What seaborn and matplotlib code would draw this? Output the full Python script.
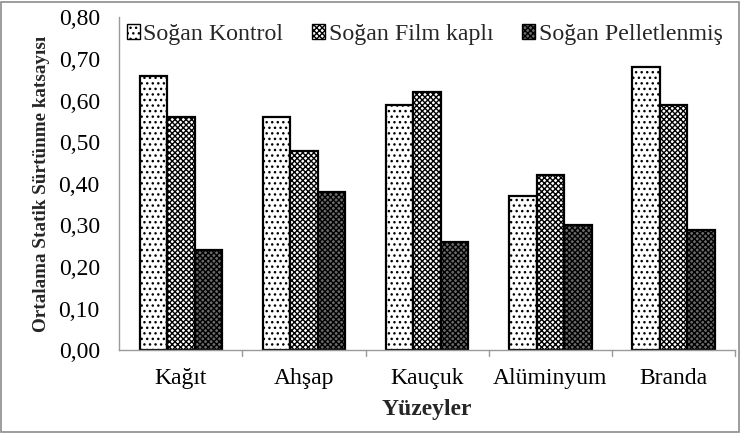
import matplotlib
matplotlib.use("Agg")
import matplotlib.pyplot as plt
import seaborn as sns
import pandas as pd
from matplotlib.patches import Rectangle
from matplotlib.ticker import FuncFormatter

categories = ["Kağıt", "Ahşap", "Kauçuk", "Alüminyum", "Branda"]
series_names = ["Soğan Kontrol", "Soğan Film kaplı", "Soğan Pelletlenmiş"]
kontrol = [0.66, 0.56, 0.59, 0.37, 0.68]
film = [0.56, 0.48, 0.62, 0.42, 0.59]
pellet = [0.24, 0.38, 0.26, 0.30, 0.29]

rows = []
for name, vals in zip(series_names, [kontrol, film, pellet]):
    for c, v in zip(categories, vals):
        rows.append({"Yüzey": c, "Seri": name, "Değer": v})
df = pd.DataFrame(rows)

sns.set_style("white")
plt.rcParams['font.family'] = ['Liberation Serif', 'DejaVu Serif']
plt.rcParams['hatch.linewidth'] = 1.0

fig = plt.figure(figsize=(7.41, 4.34), dpi=100)
ax = fig.add_axes([0.161, 0.193, 0.831, 0.767])

hatches = ['...', 'xxxxxx', 'xxxxxx']
faces = ['white', 'white', '#6a6a6a']
sns.barplot(data=df, x="Yüzey", y="Değer", hue="Seri", order=categories,
            hue_order=series_names, ax=ax, width=0.67, palette=['white'] * 3,
            edgecolor='black', linewidth=1.6, saturation=1, legend=False)

for i, cont in enumerate(ax.containers):
    for p in cont:
        p.set_hatch(hatches[i])
        p.set_edgecolor('black')
        p.set_facecolor(faces[i])

ax.set_ylim(0, 0.80)
ax.set_xlim(-0.5, 4.5)
ax.set_yticks([i / 10 for i in range(9)])
ax.yaxis.set_major_formatter(FuncFormatter(lambda v, p: f"{v:.2f}".replace('.', ',')))
ax.tick_params(axis='both', labelsize=17, colors='black', length=5, width=1, direction='out')
ax.tick_params(axis='x', length=0, pad=13)
ax.tick_params(axis='y', pad=9)
for s in ['top', 'right']:
    ax.spines[s].set_visible(False)
for s in ['left', 'bottom']:
    ax.spines[s].set_color('#9a9a9a')
    ax.spines[s].set_linewidth(1)
ax.tick_params(axis='y', color='#9a9a9a')

# category separator ticks on x axis
for xb in [0.5, 1.5, 2.5, 3.5, 4.5]:
    ax.plot([xb, xb], [0, -0.014], color='#9a9a9a', lw=1, clip_on=False, transform=ax.transData)

ax.set_xlabel("Yüzeyler", fontsize=17, fontweight='bold', labelpad=7)
ax.set_ylabel("Ortalama Statik Sürtünme katsayısı", fontsize=13.8, fontweight='bold', labelpad=6)

handles = [Rectangle((0, 0), 1, 1, facecolor=f, edgecolor='black', hatch=h, lw=1)
           for h, f in zip(hatches, faces)]
leg = ax.legend(handles, series_names, loc='upper left', bbox_to_anchor=(0.012, 0.98), ncol=3,
                frameon=False, fontsize=17.2, handlelength=0.55, handleheight=0.55,
                handletextpad=0.15, columnspacing=1.2, borderaxespad=0, borderpad=0)

fig.patches.append(Rectangle((0.002, 0.004), 0.995, 0.992, transform=fig.transFigure,
                             fill=False, edgecolor='#8c8c8c', lw=1.2))
fig.savefig("out.png", dpi=100)
